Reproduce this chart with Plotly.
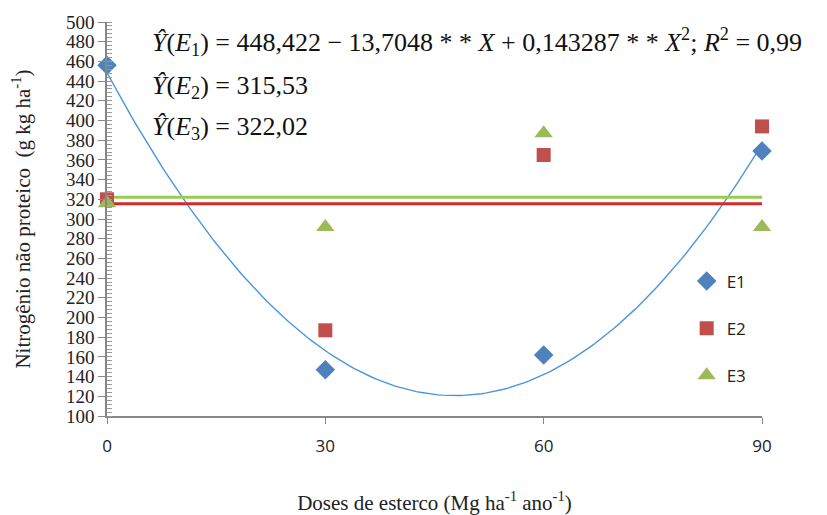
import numpy as np
import plotly.graph_objects as go

doses = [0, 30, 60, 90]
e1 = [456, 147, 162, 369]
e2 = [320, 187, 365, 394]
e3 = [316, 292, 387, 292]

# fitted models shown in the chart
quad_coef = [448.422, -13.7048, 0.143287]
mean_e2 = 315.53
mean_e3 = 322.02

ytick_vals = list(range(100, 501, 20))
xtick_vals = [0, 30, 60, 90]

blue = "#4F81BD"
red = "#C0504D"
green = "#9BBB59"

xs = np.linspace(0, 90, 181)
ys = quad_coef[0] + quad_coef[1] * xs + quad_coef[2] * xs ** 2

fig = go.Figure()
fig.add_trace(go.Scatter(x=xs, y=ys, mode="lines", line=dict(color="#4A96D8", width=1.4),
                         showlegend=False, hoverinfo="skip"))
fig.add_trace(go.Scatter(x=[0, 90], y=[mean_e3, mean_e3], mode="lines",
                         line=dict(color="#9ACD4F", width=3), showlegend=False))
fig.add_trace(go.Scatter(x=[0, 90], y=[mean_e2, mean_e2], mode="lines",
                         line=dict(color="#D42A2A", width=3), showlegend=False))
fig.add_trace(go.Scatter(x=doses, y=e1, mode="markers", name="E1", legendgroup="a",
                         cliponaxis=False,
                         marker=dict(symbol="diamond", size=15, color=blue)))
fig.add_trace(go.Scatter(x=doses, y=e2, mode="markers", name="E2", legendgroup="b",
                         cliponaxis=False,
                         marker=dict(symbol="square", size=14, color=red)))
fig.add_trace(go.Scatter(x=doses, y=e3, mode="markers", name="E3", legendgroup="c",
                         cliponaxis=False,
                         marker=dict(symbol="triangle-up", size=16, color=green)))

serif = "Liberation Serif"
fig.update_layout(
    width=827, height=515,
    margin=dict(l=107, r=65, t=22, b=99),
    paper_bgcolor="white", plot_bgcolor="white",
    showlegend=True,
    legend=dict(x=0.885, y=0.222, xanchor="left", yanchor="middle",
                font=dict(family="Open Sans", size=17, color="#222"),
                tracegroupgap=22, bgcolor="rgba(0,0,0,0)", itemwidth=30),
    xaxis=dict(range=[0, 90], tickvals=xtick_vals, ticks="outside", ticklen=6,
               tickcolor="#868686", showline=True, linecolor="#868686", linewidth=1.5,
               showgrid=False, zeroline=False, ticklabelstandoff=8, automargin=False,
               tickfont=dict(family="Open Sans", size=17, color="#222"),
               title=dict(text="Doses de esterco (Mg ha<sup>-1</sup> ano<sup>-1</sup>)",
                          font=dict(family=serif, size=21, color="#222"), standoff=46)),
    yaxis=dict(range=[100, 500], tickvals=ytick_vals, ticks="outside", ticklen=7,
               tickcolor="#868686", showline=True, linecolor="#868686", linewidth=1.5,
               showgrid=False, zeroline=False, automargin=False,
               tickfont=dict(family=serif, size=19, color="#222"),
               minor=dict(dtick=4, ticks="inside", ticklen=5, tickcolor="#9a9a9a"),
               title=dict(text="Nitrogênio não proteico  (g kg ha<sup>-1</sup>)",
                          font=dict(family=serif, size=21, color="#222"), standoff=30)),
)

eq_font = dict(family=serif, size=26, color="#111")
eqs = [
    ("<i>Y\u0302</i>(<i>E</i><sub>1</sub>) = 448,422 − 13,7048 * * <i>X</i> + 0,143287 * * <i>X</i><sup>2</sup>; <i>R</i><sup>2</sup> = 0,99", 42),
    ("<i>Y\u0302</i>(<i>E</i><sub>2</sub>) = 315,53", 87),
    ("<i>Y\u0302</i>(<i>E</i><sub>3</sub>) = 322,02", 128),
]
for txt, ypx in eqs:
    fig.add_annotation(text=txt, xref="paper", yref="paper",
                       x=(150 - 107) / (762 - 107), y=(416 - ypx) / (416 - 22),
                       xanchor="left", yanchor="middle", showarrow=False, font=eq_font)

fig.write_html("out.html")
